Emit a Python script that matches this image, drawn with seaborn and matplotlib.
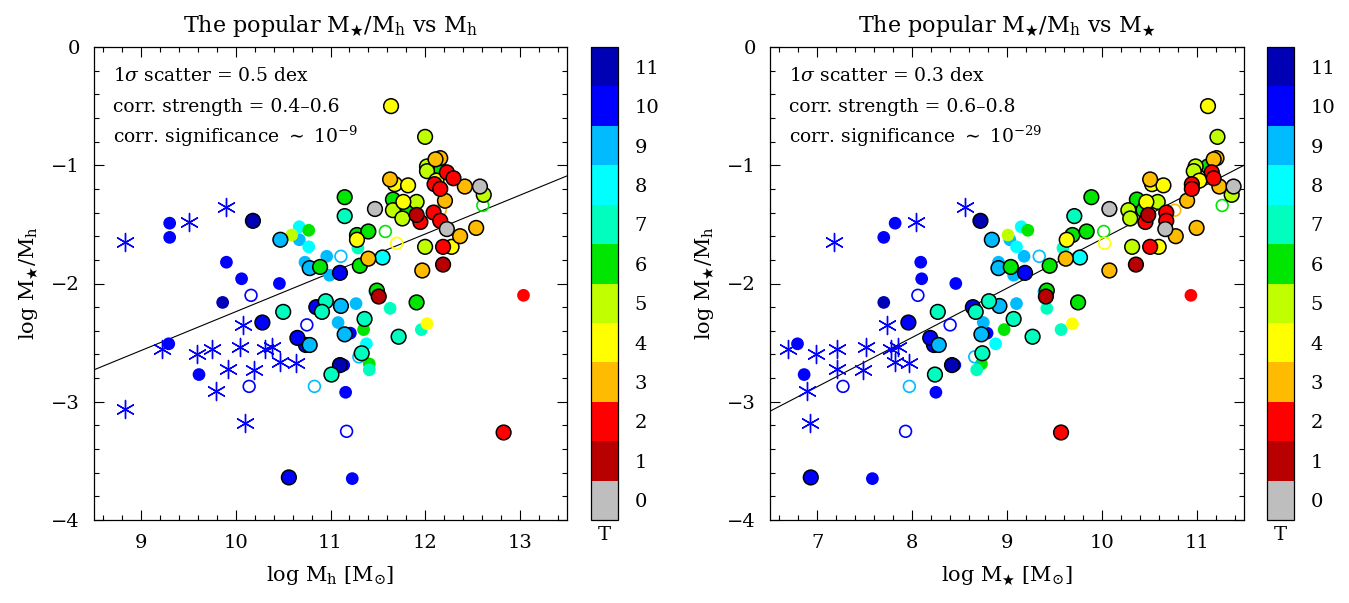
import numpy as np
import pandas as pd
import matplotlib
matplotlib.use("Agg")
import matplotlib.pyplot as plt
from matplotlib.colors import ListedColormap, BoundaryNorm
from matplotlib.ticker import MultipleLocator
import seaborn as sns

# morphological type T and its colour
t_levels = list(range(12))
t_colors = ["#bebebe", "#b80000", "#ff0000", "#ffbb00", "#ffff00", "#bfff00",
            "#00e600", "#00ffbf", "#00ffff", "#00bbff", "#0000ff", "#0000b4"]

# big dots with a black rim
big_mh = [10.18, 11.10, 11.10, 10.85, 10.74, 10.65, 10.28, 10.56, 10.47, 10.78,
          11.11, 11.15, 10.78, 11.55, 11.15, 10.95, 10.91, 10.50, 11.36, 11.33,
          11.01, 11.72, 10.89, 11.15, 11.28, 11.40, 11.31, 11.66, 11.82, 12.14,
          11.91, 11.49, 11.66, 11.76, 11.91, 12.00, 12.00, 12.02, 12.02, 12.62,
          11.64, 11.68, 11.82, 11.77, 12.28, 12.12, 11.28, 11.63, 11.40, 11.97,
          12.16, 12.11, 12.21, 12.42, 12.37, 12.54, 11.95, 12.09, 12.16, 12.23,
          12.30, 12.10, 12.16, 12.19, 12.83, 11.91, 12.19, 11.51, 11.47, 12.23,
          12.58]
big_ms = [8.72, 8.42, 9.19, 8.64, 8.23, 8.19, 7.96, 6.93, 8.84, 8.91,
          8.92, 8.73, 8.28, 9.77, 9.71, 8.81, 8.67, 8.27, 9.07, 8.74,
          8.24, 9.27, 9.04, 9.89, 9.69, 9.84, 9.45, 10.37, 10.44, 11.12,
          9.75, 9.42, 10.28, 10.30, 10.59, 10.32, 11.22, 10.99, 10.97, 11.37,
          11.12, 10.53, 10.65, 10.47, 10.60, 11.03, 9.63, 10.51, 9.62, 10.08,
          11.21, 11.18, 10.90, 11.24, 10.78, 11.00, 10.46, 10.68, 10.68, 11.16,
          11.18, 10.95, 10.95, 10.51, 9.57, 10.49, 10.36, 9.41, 10.08, 10.67,
          11.39]
big_ratio = [-1.47, -2.69, -1.91, -2.20, -2.52, -2.46, -2.33, -3.64, -1.63, -1.87,
             -2.19, -2.43, -2.52, -1.78, -1.43, -2.15, -2.24, -2.24, -2.30, -2.59,
             -2.77, -2.45, -1.86, -1.27, -1.59, -1.56, -1.85, -1.29, -1.38, -1.01,
             -2.16, -2.06, -1.38, -1.45, -1.31, -1.69, -0.76, -1.01, -1.05, -1.25,
             -0.50, -1.16, -1.17, -1.31, -1.69, -1.13, -1.63, -1.12, -1.79, -1.89,
             -0.94, -0.95, -1.30, -1.18, -1.60, -1.53, -1.48, -1.40, -1.47, -1.06,
             -1.11, -1.16, -1.20, -1.69, -3.26, -1.42, -1.84, -2.11, -1.37, -1.54,
             -1.18]
big_t = [11, 11, 10, 10, 10, 10, 10, 10, 9, 9,
         9, 9, 9, 8, 7, 7, 7, 7, 7, 7,
         7, 7, 6, 6, 6, 6, 6, 6, 6, 6,
         6, 6, 5, 5, 5, 5, 5, 5, 5, 5,
         4, 4, 4, 4, 4, 4, 4, 3, 3, 3,
         3, 3, 3, 3, 3, 3, 2, 2, 2, 2,
         2, 2, 2, 2, 2, 1, 1, 1, 0, 0,
         0]

# small dots, no rim
small_mh = [9.30, 9.30, 9.90, 10.06, 10.46, 9.61, 9.29, 11.16, 11.23, 11.14,
            11.21, 9.86, 10.67, 10.73, 10.96, 10.99, 11.27, 11.08, 11.47, 10.67,
            10.77, 11.38, 10.59, 10.77, 11.35, 11.41, 11.41, 11.63, 11.96, 11.29,
            12.02, 13.04]
small_ms = [7.82, 7.70, 8.09, 8.10, 8.46, 6.86, 6.79, 8.25, 7.58, 8.45,
            8.79, 7.70, 9.03, 8.91, 9.18, 9.07, 9.10, 8.75, 9.39, 9.15,
            9.10, 8.88, 9.01, 9.22, 8.97, 8.73, 8.68, 9.42, 9.57, 9.59,
            9.69, 10.94]
small_ratio = [-1.49, -1.61, -1.82, -1.96, -2.00, -2.77, -2.51, -2.92, -3.65, -2.69,
               -2.42, -2.16, -1.63, -1.82, -1.77, -1.93, -2.17, -2.33, -2.07, -1.52,
               -1.69, -2.51, -1.59, -1.55, -2.39, -2.68, -2.73, -2.21, -2.39, -1.70,
               -2.34, -2.10]
small_t = [10, 10, 10, 10, 10, 10, 10, 10, 10, 10,
           10, 11, 9, 9, 9, 9, 9, 9, 9, 8,
           8, 8, 5, 6, 6, 6, 7, 7, 7, 7,
           4, 2]

# open circles
open_mh = [10.16, 10.75, 10.14, 11.17, 10.83, 11.11, 11.30, 11.58, 12.61, 11.70, 12.16]
open_ms = [8.06, 8.40, 7.27, 7.93, 7.97, 9.34, 8.66, 10.02, 11.27, 10.03, 10.77]
open_ratio = [-2.10, -2.35, -2.87, -3.25, -2.87, -1.77, -2.62, -1.56, -1.34, -1.66, -1.38]
open_t = [10, 10, 10, 10, 9, 9, 9, 6, 6, 4, 3]

# asterisks (all T = 10)
star_mh = [8.83, 9.50, 9.90, 8.83, 9.22, 9.59, 9.75, 9.92, 9.79, 10.04,
           10.08, 10.19, 10.31, 10.38, 10.47, 10.64, 10.10]
star_ms = [7.18, 8.04, 8.56, 5.77, 6.69, 6.99, 7.21, 7.21, 6.89, 7.51,
           7.73, 7.48, 7.78, 7.85, 7.82, 7.97, 6.92]
star_ratio = [-1.65, -1.48, -1.35, -3.06, -2.55, -2.60, -2.55, -2.72, -2.91, -2.54,
              -2.35, -2.73, -2.55, -2.54, -2.66, -2.67, -3.18]

# straight fits, read at the frame edges
fit_mh = [8.5, 13.5]
fit_mh_ratio = [-2.73, -1.09]
fit_ms = [6.5, 11.5]
fit_ms_ratio = [-3.08, -1.00]

notes_mh = [r"1$\sigma$ scatter = 0.5 dex", "corr. strength = 0.4\u20130.6",
            r"corr. significance $\sim$ 10$^{-9}$"]
notes_ms = [r"1$\sigma$ scatter = 0.3 dex", "corr. strength = 0.6\u20130.8",
            r"corr. significance $\sim$ 10$^{-29}$"]

big = pd.DataFrame({"mh": big_mh, "ms": big_ms, "ratio": big_ratio, "t": big_t})
small = pd.DataFrame({"mh": small_mh, "ms": small_ms, "ratio": small_ratio, "t": small_t})
opn = pd.DataFrame({"mh": open_mh, "ms": open_ms, "ratio": open_ratio, "t": open_t})
star = pd.DataFrame({"mh": star_mh, "ms": star_ms, "ratio": star_ratio})

sns.set_style("ticks")
plt.rcParams["font.family"] = ["DejaVu Serif"]
plt.rcParams["mathtext.fontset"] = "dejavuserif"
plt.rcParams["axes.linewidth"] = 0.9
for key in ["text.color", "axes.labelcolor", "axes.edgecolor", "xtick.color", "ytick.color"]:
    plt.rcParams[key] = "black"

palette = dict(zip(t_levels, t_colors))
cmap = ListedColormap(t_colors)
norm = BoundaryNorm(np.arange(-0.5, 12.5, 1), cmap.N)

W, H = 1349, 603
fig = plt.figure(figsize=(W / 100, H / 100), dpi=100)
ax1 = fig.add_axes([94 / W, 83 / H, 473 / W, 473 / H])
cax1 = fig.add_axes([591 / W, 83 / H, 27 / W, 473 / H])
ax2 = fig.add_axes([770 / W, 83 / H, 474 / W, 473 / H])
cax2 = fig.add_axes([1267 / W, 83 / H, 27 / W, 473 / H])

ylab = r"log M$_{\bigstar}$/M$_{\rm h}$"


def draw_panel(ax, cax, col, xlim, xticks, fit_x, fit_y, notes, title, xlabel):
    ax.plot(fit_x, fit_y, color="black", lw=0.8, zorder=1)
    sns.scatterplot(data=small, x=col, y="ratio", hue="t", palette=palette,
                    s=84, edgecolor="none", linewidth=0, legend=False, ax=ax, zorder=2)
    ax.scatter(opn[col], opn["ratio"], s=72, facecolors="none",
               edgecolors=[palette[t] for t in opn["t"]], linewidths=1.2, zorder=2.5)
    sns.scatterplot(data=big, x=col, y="ratio", hue="t", palette=palette,
                    s=112, edgecolor="black", linewidth=1.1, legend=False, ax=ax, zorder=3)
    sns.scatterplot(data=star, x=col, y="ratio", color="#0000ff", marker=(6, 2, 0),
                    s=170, linewidth=1.0, legend=False, ax=ax, zorder=4)

    ax.set_xlim(*xlim)
    ax.set_ylim(-4, 0)
    ax.set_xticks(xticks)
    ax.set_yticks([-4, -3, -2, -1, 0])
    ax.xaxis.set_minor_locator(MultipleLocator(0.2))
    ax.yaxis.set_minor_locator(MultipleLocator(0.2))
    ax.tick_params(which="both", direction="in", top=True, right=True,
                   width=0.8, labelsize=14, pad=10)
    ax.tick_params(which="major", length=7)
    ax.tick_params(which="minor", length=3.5)
    ax.set_xlabel(xlabel, fontsize=15, labelpad=9)
    ax.set_ylabel(ylab, fontsize=15, labelpad=8)
    ax.set_title(title, fontsize=16, pad=11)
    for i, line in enumerate(notes):
        ax.text(0.04, 0.938 - i * 0.064, line, transform=ax.transAxes,
                fontsize=13.5, va="center", ha="left")

    cb = fig.colorbar(plt.cm.ScalarMappable(norm=norm, cmap=cmap), cax=cax, ticks=t_levels)
    cb.ax.minorticks_off()
    cb.ax.tick_params(direction="in", length=7, width=1.0, color="#444444",
                      labelsize=14, pad=12)
    cb.outline.set_linewidth(0.9)
    cax.set_xlabel("T", fontsize=14, labelpad=4)


draw_panel(ax1, cax1, "mh", (8.5, 13.5), [9, 10, 11, 12, 13], fit_mh, fit_mh_ratio,
           notes_mh, r"The popular M$_{\bigstar}$/M$_{\rm h}$ vs M$_{\rm h}$",
           r"log M$_{\rm h}$ [M$_{\odot}$]")
draw_panel(ax2, cax2, "ms", (6.5, 11.5), [7, 8, 9, 10, 11], fit_ms, fit_ms_ratio,
           notes_ms, r"The popular M$_{\bigstar}$/M$_{\rm h}$ vs M$_{\bigstar}$",
           r"log M$_{\bigstar}$ [M$_{\odot}$]")

fig.savefig("out.png", dpi=100)
